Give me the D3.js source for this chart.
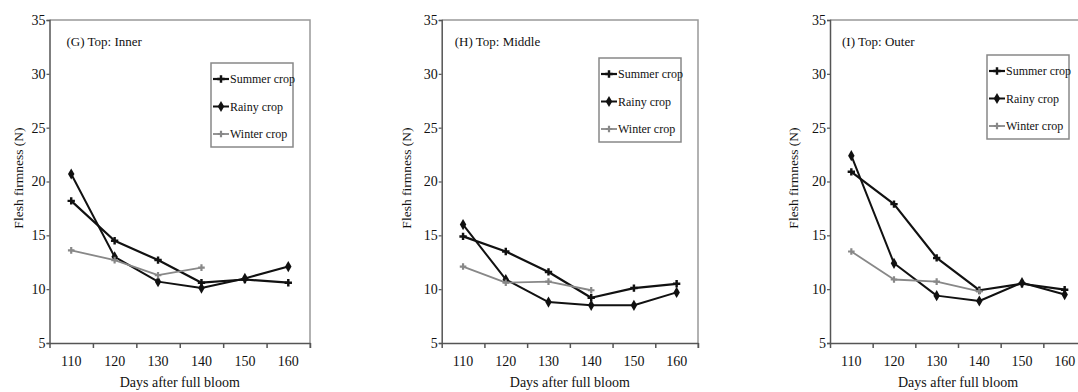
<!DOCTYPE html>
<html>
<head>
<meta charset="utf-8">
<script src="https://cdn.jsdelivr.net/npm/d3@7"></script>
<style>
html,body{margin:0;padding:0;background:#fff;}
svg{display:block;}
svg text{font-family:"Liberation Serif","Times New Roman",serif;fill:#111;}
</style>
</head>
<body>
<svg id="chart" width="1078" height="392"></svg>
<script>
// ---- data ----
const days = [110, 120, 130, 140, 150, 160];
const yTicks = [5, 10, 15, 20, 25, 30, 35];
const seriesNames = ["Summer crop", "Rainy crop", "Winter crop"];
const panelTitles = ["(G) Top: Inner", "(H) Top: Middle", "(I) Top: Outer"];

const innerSummer = [18.2, 14.5, 12.7, 10.6, 10.9, 10.6];
const innerRainy  = [20.7, 13.0, 10.7, 10.1, 11.0, 12.1];
const innerWinter = [13.6, 12.7, 11.3, 12.0];

const middleSummer = [14.9, 13.5, 11.6, 9.2, 10.1, 10.5];
const middleRainy  = [16.0, 10.9, 8.8, 8.5, 8.5, 9.7];
const middleWinter = [12.1, 10.6, 10.7, 9.9];

const outerSummer = [20.9, 17.9, 12.9, 9.9, 10.5, 9.95];
const outerRainy  = [22.4, 12.4, 9.4, 8.9, 10.6, 9.5];
const outerWinter = [13.5, 10.9, 10.7, 9.8];

const panelData = [
  [innerSummer, innerRainy, innerWinter],
  [middleSummer, middleRainy, middleWinter],
  [outerSummer, outerRainy, outerWinter]
];

// ---- layout ----
const plotTop = 20, plotBottom = 343;
const layout = [
  {left: 49.5, right: 310, titleDx: 17, yTitleDx: -31, legTop: 63},
  {left: 441.7, right: 698, titleDx: 13, yTitleDx: -35, legTop: 58},
  {left: 830, right: 1086, titleDx: 12, yTitleDx: -37, legTop: 55}
];
const styles = [
  {color: "#111", width: 2.2, symbol: d3.symbolCross, size: 30},
  {color: "#111", width: 2.0, symbol: d3.symbolDiamond, size: 36},
  {color: "#888", width: 1.8, symbol: d3.symbolCross, size: 24}
];

const svg = d3.select("#chart");

layout.forEach((L, pi) => {
  const g = svg.append("g");
  const x = d3.scaleBand().domain(days).range([L.left, L.right]).padding(0);
  const xi = d3.scaleLinear().domain([0, days.length]).range([L.left, L.right]);
  const y = d3.scaleLinear().domain([5, 35]).range([plotBottom, plotTop]);
  const cx = d => x(d) + x.bandwidth() / 2;

  // frame (top and right)
  g.append("path")
    .attr("d", `M${L.left},${plotTop}H${L.right}V${plotBottom + 5}`)
    .attr("fill", "none").attr("stroke", "#999").attr("stroke-width", 1.5);

  // y axis
  const ya = g.append("g").attr("transform", `translate(${L.left},0)`)
    .call(d3.axisLeft(y).tickValues(yTicks).tickSize(3).tickPadding(1))
    .attr("font-family", "Liberation Serif").attr("font-size", 14);
  ya.select(".domain").attr("stroke", "#555").attr("stroke-width", 1.5);
  ya.selectAll(".tick line").attr("stroke", "#555").attr("stroke-width", 1.2);
  ya.selectAll("text").style("font-size", "14px").attr("fill", "#111");

  // x axis labels (band)
  const xa = g.append("g").attr("transform", `translate(0,${plotBottom})`)
    .call(d3.axisBottom(x).tickSize(0).tickPadding(13))
    .attr("font-family", "Liberation Serif").attr("font-size", 14);
  xa.select(".domain").attr("stroke", "#555").attr("stroke-width", 1.5);
  xa.selectAll("text").style("font-size", "14px").attr("fill", "#111");
  // x boundary ticks
  const xt = g.append("g").attr("transform", `translate(0,${plotBottom})`)
    .call(d3.axisBottom(xi).tickValues(d3.range(0, days.length + 1)).tickFormat("").tickSize(5));
  xt.select(".domain").remove();
  xt.selectAll(".tick line").attr("stroke", "#555").attr("stroke-width", 1.5);

  // titles
  g.append("text").attr("x", L.left + L.titleDx).attr("y", 46)
    .style("font-size", "13px").text(panelTitles[pi]);
  g.append("text")
    .attr("x", (L.left + L.right) / 2)
    .attr("y", 387).attr("text-anchor", "middle")
    .style("font-size", "14px").text("Days after full bloom");
  g.append("text")
    .attr("transform", `translate(${L.left + L.yTitleDx},178) rotate(-90)`)
    .attr("text-anchor", "middle").attr("dy", "0.35em")
    .style("font-size", "13.5px").text("Flesh firmness (N)");

  // series
  const line = d3.line().x((d, i) => cx(days[i])).y(d => y(d));
  panelData[pi].forEach((vals, si) => {
    const st = styles[si];
    g.append("path").datum(vals).attr("d", line)
      .attr("fill", "none").attr("stroke", st.color).attr("stroke-width", st.width)
      .attr("stroke-linejoin", "round");
    g.selectAll(null).data(vals).enter().append("path")
      .attr("transform", (d, i) => `translate(${cx(days[i])},${y(d)})`)
      .attr("d", d3.symbol().type(st.symbol).size(st.size))
      .attr("fill", st.color);
  });

  // legend
  const lw = 82, lh = 84;
  const lx = L.right - 17 - lw, ly = L.legTop;
  const lg = g.append("g").attr("transform", `translate(${lx},${ly})`);
  lg.append("rect").attr("width", lw).attr("height", lh)
    .attr("fill", "#fff").attr("stroke", "#888").attr("stroke-width", 1.5);
  seriesNames.forEach((name, si) => {
    const st = styles[si];
    const ey = 16 + si * 27.5;
    lg.append("line").attr("x1", 2).attr("x2", 18).attr("y1", ey).attr("y2", ey)
      .attr("stroke", st.color).attr("stroke-width", st.width);
    lg.append("path").attr("transform", `translate(10,${ey})`)
      .attr("d", d3.symbol().type(st.symbol).size(st.size)).attr("fill", st.color);
    lg.append("text").attr("x", 19).attr("y", ey).attr("dy", "0.35em")
      .style("font-size", "12px").text(name);
  });
});
</script>
</body>
</html>
